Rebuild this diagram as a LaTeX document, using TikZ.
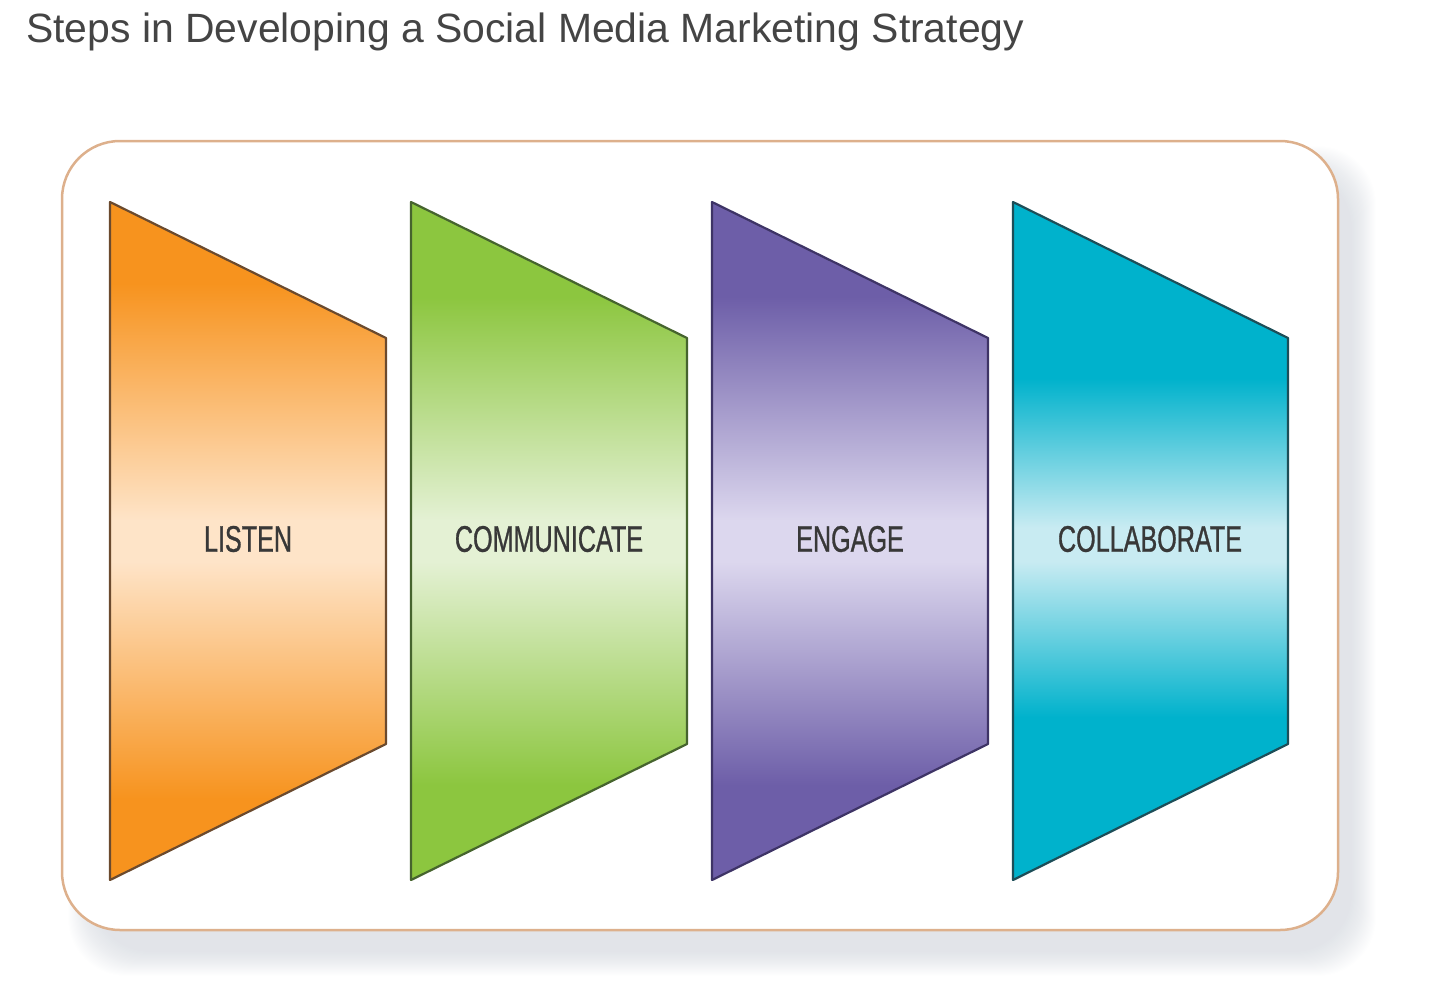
\documentclass[tikz,border=0pt]{standalone}
\usepackage{fontspec}
\setmainfont{Liberation Sans}
\newfontfamily\stagefont[FakeStretch=0.68, FakeBold=0.8]{Liberation Sans}
\usetikzlibrary{calc}
\definecolor{titlegray}{HTML}{444444}
\definecolor{panelrim}{HTML}{DDB08C}
\definecolor{shadowgray}{HTML}{8C97A8}
\definecolor{orangeA}{HTML}{F7931E}
\definecolor{orangeB}{HTML}{FEE4C8}
\definecolor{orangeC}{HTML}{6B4A2E}
\definecolor{greenA}{HTML}{8CC63F}
\definecolor{greenB}{HTML}{E4F1D4}
\definecolor{greenC}{HTML}{46642E}
\definecolor{purpleA}{HTML}{6D5EA8}
\definecolor{purpleB}{HTML}{DCD7EE}
\definecolor{purpleC}{HTML}{3E3466}
\definecolor{tealA}{HTML}{00B2CC}
\definecolor{tealB}{HTML}{C8EBF2}
\definecolor{tealC}{HTML}{1D4E58}
% the shape's box runs from 25bp to 75bp of each shading
\pgfdeclareverticalshading{orangefade}{100bp}{color(0bp)=(orangeA); color(31bp)=(orangeA); color(48.5bp)=(orangeB); color(51.5bp)=(orangeB); color(69bp)=(orangeA); color(100bp)=(orangeA)}
\pgfdeclareverticalshading{greenfade}{100bp}{color(0bp)=(greenA); color(32bp)=(greenA); color(48.5bp)=(greenB); color(51.5bp)=(greenB); color(68bp)=(greenA); color(100bp)=(greenA)}
\pgfdeclareverticalshading{purplefade}{100bp}{color(0bp)=(purpleA); color(32bp)=(purpleA); color(48.5bp)=(purpleB); color(51.5bp)=(purpleB); color(68bp)=(purpleA); color(100bp)=(purpleA)}
\pgfdeclareverticalshading{tealfade}{100bp}{color(0bp)=(tealA); color(37bp)=(tealA); color(48.5bp)=(tealB); color(51bp)=(tealB); color(62bp)=(tealA); color(100bp)=(tealA)}
\tikzstyle{panel} = [draw=panelrim, line width=2.5pt, rounded corners=58pt, fill=white]
\tikzstyle{stage} = [line width=2.2pt, line join=round]
\tikzstyle{stagelabel} = [font=\stagefont\fontsize{37}{40}\selectfont, text=black!78, inner sep=0pt]

\begin{document}
\begin{tikzpicture}[x=1pt, y=-1pt]
        \useasboundingbox (0,0) rectangle (1440,982);
        \node[anchor=base west, inner sep=0pt, text=titlegray, font=\fontsize{40.9}{44}\selectfont] (title) at (26,43) {Steps in Developing a Social Media Marketing Strategy};
        % soft shadow under the panel
        \foreach \k in {0,...,24}
            \fill[shadowgray, opacity=0.012, rounded corners=58pt] (92-\k,170-\k) rectangle (1352+\k,952+\k);
        \draw[panel] (62,141) rectangle (1338,930);
        \shade[stage, draw=orangeC, shading=orangefade] (110,202) -- (386,338) -- (386,744) -- (110,880) -- cycle;
        \shade[stage, draw=greenC, shading=greenfade] (411,202) -- (687,338) -- (687,744) -- (411,880) -- cycle;
        \shade[stage, draw=purpleC, shading=purplefade] (712,202) -- (988,338) -- (988,744) -- (712,880) -- cycle;
        \shade[stage, draw=tealC, shading=tealfade] (1013,202) -- (1288,338) -- (1288,744) -- (1013,880) -- cycle;
        \node[stagelabel] (listen) at (248,539) {LISTEN};
        \node[stagelabel] (communicate) at (549,539) {COMMUNICATE};
        \node[stagelabel] (engage) at (850,539) {ENGAGE};
        \node[stagelabel] (collaborate) at (1150,539) {COLLABORATE};
    \end{tikzpicture}
\end{document}
